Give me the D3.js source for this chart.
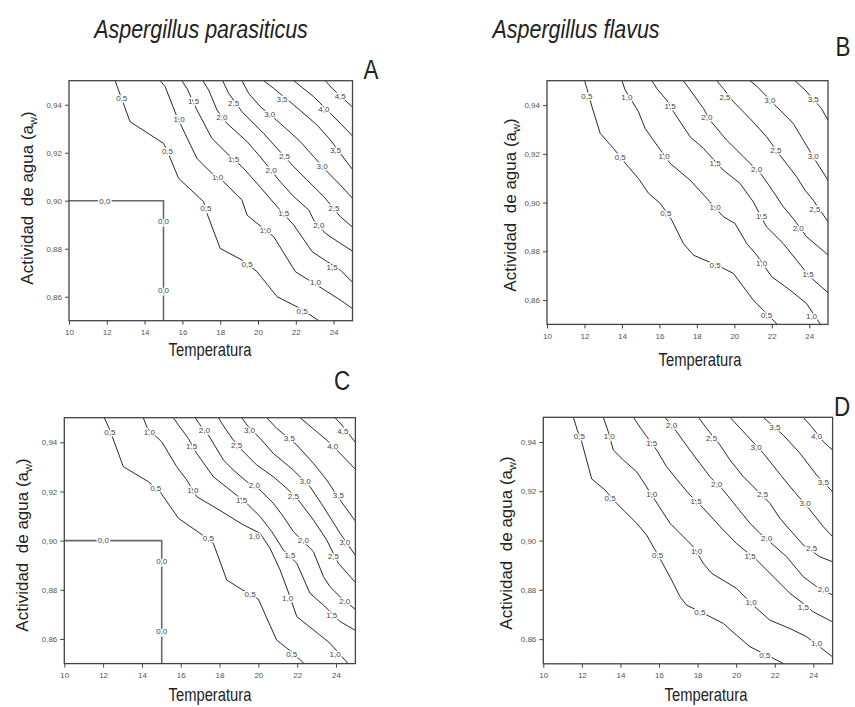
<!DOCTYPE html>
<html><head><meta charset="utf-8">
<script src="https://cdn.jsdelivr.net/npm/d3@7"></script>
<style>body{margin:0;background:#fff}svg{display:block}text{font-family:"Liberation Sans",Arial,sans-serif}</style>
</head><body>
<script>
// ---- data ----
const xDomain = [10, 25];
const yDomain = [0.85, 0.95];
const xTicks = [10, 12, 14, 16, 18, 20, 22, 24];
const yTicks = [0.86, 0.88, 0.90, 0.92, 0.94];
const yTickLabels = ["0,86", "0,88", "0,90", "0,92", "0,94"];
const speciesTitles = ["Aspergillus parasiticus", "Aspergillus flavus"];
const panelLetters = ["A", "B", "C", "D"];
const xTitle = "Temperatura";

// contour lines: [level, [[temperature, aw], ...]]
const contoursA = [
  [0.0, [[10,0.90],[15,0.90],[15,0.85]]],
  [0.5, [[12.44,0.95],[13.23,0.9329],[15.0,0.9239],[15.18,0.9211],[15.80,0.9093],[17.12,0.8996],[17.30,0.8947],[18.00,0.8801],[19.15,0.8753],[19.95,0.8704],[21.01,0.86],[22.24,0.8551],[23.22,0.85]]],
  [1.0, [[14.82,0.95],[15.09,0.9475],[15.71,0.935],[16.77,0.9176],[17.56,0.9114],[18.18,0.9079],[19.15,0.9003],[19.42,0.894],[19.95,0.8906],[20.83,0.885],[21.98,0.8704],[22.95,0.8656],[24.36,0.8586],[25,0.855]]],
  [1.5, [[15.97,0.95],[16.24,0.9468],[16.77,0.9378],[17.56,0.926],[18.36,0.9197],[19.15,0.9142],[19.95,0.9072],[21.01,0.8975],[21.89,0.8899],[22.86,0.8788],[23.66,0.8746],[24.36,0.8711],[25,0.866]]],
  [2.0, [[17.08,0.95],[17.39,0.9461],[17.83,0.9378],[18.36,0.9322],[19.42,0.9246],[20.12,0.9183],[21.10,0.9086],[21.89,0.9017],[22.69,0.8961],[22.95,0.8919],[23.57,0.8864],[24.36,0.8822],[25,0.879]]],
  [2.5, [[18.13,0.95],[18.45,0.9447],[19.15,0.9371],[20.30,0.928],[21.01,0.9218],[21.89,0.9142],[22.60,0.9086],[23.48,0.9017],[24.36,0.8933],[25,0.889]]],
  [3.0, [[19.15,0.95],[19.51,0.9447],[20.12,0.9392],[21.18,0.9322],[22.24,0.9246],[22.95,0.9183],[23.66,0.9121],[24.36,0.9065],[25,0.901]]],
  [3.5, [[20.30,0.95],[20.83,0.9468],[21.89,0.9399],[23.13,0.9315],[23.83,0.9253],[24.36,0.9197],[25,0.913]]],
  [4.0, [[21.89,0.95],[22.95,0.9433],[23.83,0.9364],[24.36,0.9322],[25,0.927]]],
  [4.5, [[23.57,0.95],[23.92,0.9468],[25,0.939]]]
];
const labelsA = [
  [0.0,11.9,0.90],[0.0,15,0.8913],[0.0,15,0.8628],
  [0.5,12.79,0.9426],[0.5,15.21,0.9208],[0.5,17.24,0.897],[0.5,19.42,0.8735],[0.5,22.33,0.8538],
  [1.0,15.83,0.9339],[1.0,17.86,0.9096],[1.0,20.39,0.8878],[1.0,23.04,0.866],
  [1.5,16.59,0.9413],[1.5,18.71,0.9172],[1.5,21.36,0.8947],[1.5,23.92,0.8725],
  [2.0,18.09,0.9346],[2.0,20.69,0.9128],[2.0,23.22,0.8896],
  [2.5,18.71,0.9406],[2.5,21.40,0.9186],[2.5,24.01,0.8968],
  [3.0,20.62,0.936],[3.0,23.39,0.9142],
  [3.5,21.27,0.9424],[3.5,24.10,0.9211],
  [4.0,23.48,0.9382],
  [4.5,24.35,0.9435]
];
const contoursB = [
  [0.5, [[12.01,0.95],[12.13,0.9468],[12.40,0.9393],[12.84,0.9284],[13.55,0.9222],[14.26,0.9154],[14.88,0.9099],[15.42,0.9038],[16.04,0.8997],[16.66,0.8928],[17.28,0.8832],[17.82,0.8784],[19.24,0.8737],[19.95,0.8709],[21.01,0.86],[22.29,0.85]]],
  [1.0, [[14.0,0.95],[14.17,0.9462],[14.88,0.9373],[15.24,0.9304],[15.68,0.9256],[16.57,0.9161],[17.64,0.9092],[18.70,0.9003],[19.41,0.8942],[20.04,0.8914],[20.66,0.8832],[21.19,0.8785],[21.99,0.8696],[22.97,0.8641],[23.85,0.8586],[24.60,0.85]]],
  [1.5, [[15.60,0.95],[15.86,0.9468],[16.39,0.942],[16.75,0.9373],[17.64,0.927],[18.35,0.9222],[19.41,0.9133],[20.30,0.9079],[21.01,0.9003],[21.72,0.89],[22.61,0.8832],[23.32,0.8764],[24.03,0.8696],[25,0.863]]],
  [2.0, [[17.28,0.95],[17.64,0.9462],[18.35,0.9386],[18.70,0.9338],[19.59,0.9256],[20.48,0.9188],[21.46,0.9113],[21.90,0.9065],[22.61,0.8983],[23.14,0.8935],[23.85,0.886],[25,0.8785]]],
  [2.5, [[19.06,0.95],[19.41,0.9468],[19.95,0.9414],[20.83,0.9345],[21.72,0.927],[22.43,0.9195],[23.32,0.9106],[23.77,0.9051],[24.21,0.901],[25,0.8921]]],
  [3.0, [[20.83,0.95],[21.19,0.9478],[22.26,0.9393],[23.14,0.9325],[23.68,0.9256],[24.48,0.9154],[25,0.9092]]],
  [3.5, [[23.23,0.95],[23.77,0.9462],[24.65,0.9386],[25,0.9338]]]
];
const labelsB = [
  [0.5,12.13,0.9437],[0.5,13.91,0.9185],[0.5,16.34,0.8958],[0.5,18.97,0.8744],[0.5,21.72,0.8538],
  [1.0,14.26,0.9434],[1.0,16.25,0.9191],[1.0,18.97,0.898],[1.0,21.46,0.8753],[1.0,24.12,0.8534],
  [1.5,16.57,0.9396],[1.5,18.97,0.9163],[1.5,21.46,0.8942],[1.5,23.94,0.8707],
  [2.0,18.53,0.9352],[2.0,21.19,0.9136],[2.0,23.41,0.8894],
  [2.5,19.50,0.9434],[2.5,22.22,0.9215],[2.5,24.30,0.8972],
  [3.0,21.90,0.9418],[3.0,24.21,0.9191],
  [3.5,24.21,0.9423]
];
const contoursC = [
  [0.0, [[10,0.90],[15.02,0.90],[15.02,0.85]]],
  [0.5, [[12.06,0.95],[12.35,0.945],[13.04,0.9301],[14.33,0.924],[14.93,0.9199],[15.88,0.9091],[16.99,0.903],[17.68,0.8989],[18.37,0.884],[19.05,0.8806],[20.0,0.8762],[20.94,0.8596],[21.80,0.8542],[22.36,0.85]]],
  [1.0, [[14.07,0.95],[14.28,0.9457],[15.02,0.9402],[15.79,0.9301],[16.31,0.9247],[16.82,0.9179],[17.85,0.9131],[19.23,0.9064],[20.09,0.903],[20.60,0.8969],[21.12,0.8881],[21.63,0.8772],[21.98,0.8691],[22.84,0.8637],[23.69,0.8583],[24.62,0.85]]],
  [1.5, [[15.62,0.95],[15.88,0.947],[16.39,0.9416],[16.82,0.9355],[17.68,0.926],[18.54,0.9206],[19.40,0.9152],[20.09,0.9098],[20.69,0.9037],[21.29,0.8962],[21.98,0.8908],[22.66,0.8786],[23.35,0.8738],[24.21,0.8671],[25,0.8635]]],
  [2.0, [[16.74,0.95],[17.0,0.947],[17.42,0.943],[18.20,0.9328],[18.71,0.9287],[19.40,0.924],[20.09,0.9206],[20.77,0.9152],[21.29,0.9098],[21.80,0.9037],[22.84,0.8955],[23.35,0.8854],[23.69,0.8813],[24.21,0.8772],[25,0.872]]],
  [2.5, [[17.94,0.95],[18.28,0.9457],[18.71,0.9409],[19.14,0.9369],[19.91,0.9308],[20.77,0.926],[21.46,0.9213],[22.06,0.9165],[22.84,0.9084],[23.52,0.9003],[24.12,0.8908],[25,0.883]]],
  [3.0, [[19.14,0.95],[19.48,0.9463],[20.09,0.9416],[20.77,0.9355],[21.80,0.9287],[22.66,0.922],[23.35,0.9138],[24.21,0.903],[25,0.894]]],
  [3.5, [[20.43,0.95],[20.94,0.9457],[21.98,0.9389],[22.84,0.9314],[23.52,0.9247],[24.21,0.9165],[25,0.908]]],
  [4.0, [[22.15,0.95],[23.01,0.9443],[23.52,0.9409],[24.21,0.9355],[25,0.929]]],
  [4.5, [[23.95,0.95],[24.30,0.947],[25,0.94]]]
];
const labelsC = [
  [0.0,12.01,0.90],[0.0,15.02,0.8915],[0.0,15.02,0.8633],
  [0.5,12.35,0.9439],[0.5,14.71,0.9215],[0.5,17.42,0.901],[0.5,19.57,0.8783],[0.5,21.72,0.8539],
  [1.0,14.38,0.9439],[1.0,16.62,0.9206],[1.0,19.79,0.902],[1.0,21.51,0.8766],[1.0,23.95,0.8539],
  [1.5,16.56,0.9385],[1.5,19.14,0.9165],[1.5,21.63,0.8939],[1.5,23.78,0.8698],
  [2.0,17.22,0.945],[2.0,19.79,0.9226],[2.0,22.32,0.9003],[2.0,24.45,0.8755],
  [2.5,18.88,0.9389],[2.5,21.80,0.9179],[2.5,23.87,0.8935],
  [3.0,19.54,0.945],[3.0,22.41,0.924],[3.0,24.45,0.8995],
  [3.5,21.60,0.9416],[3.5,24.12,0.9186],
  [4.0,23.83,0.9385],
  [4.5,24.35,0.9445]
];
const contoursD = [
  [0.5, [[11.56,0.95],[11.76,0.9449],[11.99,0.9401],[12.51,0.925],[13.20,0.9205],[13.80,0.9151],[14.84,0.907],[15.36,0.9022],[15.70,0.8975],[16.14,0.8914],[16.65,0.884],[17.09,0.8772],[17.43,0.8738],[18.47,0.8698],[19.33,0.8664],[20.02,0.8616],[20.72,0.8569],[21.92,0.8522],[22.48,0.85]]],
  [1.0, [[13.11,0.95],[13.37,0.9442],[13.63,0.9367],[14.15,0.9327],[14.84,0.9279],[15.18,0.9239],[15.79,0.9164],[16.57,0.907],[17.43,0.9002],[17.78,0.8975],[18.30,0.8907],[18.73,0.8867],[20.02,0.8806],[20.54,0.8765],[21.06,0.8725],[21.75,0.8677],[22.79,0.8643],[23.65,0.861],[25,0.8528]]],
  [1.5, [[14.67,0.95],[14.93,0.9469],[15.36,0.9422],[15.88,0.9367],[16.39,0.93],[17.09,0.9232],[17.60,0.9185],[18.30,0.9131],[19.33,0.9043],[20.02,0.8988],[21.06,0.8921],[21.93,0.8853],[22.79,0.8786],[23.48,0.8745],[23.99,0.8711],[25,0.867]]],
  [2.0, [[16.31,0.95],[16.91,0.9442],[17.60,0.9367],[18.12,0.9313],[18.64,0.9259],[19.33,0.9205],[20.02,0.9137],[20.72,0.907],[21.23,0.9029],[21.93,0.8982],[22.62,0.8934],[23.48,0.8853],[24.17,0.8813],[25,0.8779]]],
  [2.5, [[18.04,0.95],[18.47,0.9455],[19.16,0.9388],[19.68,0.9327],[20.37,0.9259],[21.06,0.9205],[21.75,0.9151],[22.27,0.909],[22.79,0.9043],[23.48,0.8982],[24.34,0.8934],[25,0.8914]]],
  [3.0, [[19.68,0.95],[20.37,0.9442],[21.41,0.9354],[22.10,0.9286],[22.79,0.9219],[23.83,0.9124],[24.52,0.9056],[25,0.9016]]],
  [3.5, [[21.41,0.95],[21.84,0.9469],[22.44,0.9428],[23.31,0.9354],[24.17,0.9266],[25,0.9198]]],
  [4.0, [[23.48,0.95],[23.91,0.9462],[24.52,0.9401],[25,0.9367]]]
];
const labelsD = [
  [0.5,11.87,0.9422],[0.5,13.46,0.9171],[0.5,15.93,0.8941],[0.5,18.12,0.8708],[0.5,21.49,0.8535],
  [1.0,13.42,0.9424],[1.0,15.62,0.9187],[1.0,17.95,0.8955],[1.0,20.77,0.8749],[1.0,24.17,0.8583],
  [1.5,15.62,0.9394],[1.5,17.92,0.9158],[1.5,20.72,0.8938],[1.5,23.48,0.8731],
  [2.0,16.65,0.9469],[2.0,18.99,0.9229],[2.0,21.58,0.9009],[2.0,24.52,0.8802],
  [2.5,18.73,0.9415],[2.5,21.37,0.9189],[2.5,23.91,0.8968],
  [3.0,21.03,0.9377],[3.0,23.57,0.9151],
  [3.5,22.01,0.9459],[3.5,24.52,0.9236],
  [4.0,24.17,0.9424]
];

// ---- layout ----
const W = 855, H = 707;
const panels = [
  {contours: contoursA, labels: labelsA, x0: 69, x1: 352.5, y0: 80.7, y1: 320.7, letter: [371, 79], xt: [210, 356], yt: [33, 198]},
  {contours: contoursB, labels: labelsB, x0: 547, x1: 828, y0: 80.7, y1: 324.4, letter: [843, 56], xt: [700, 366], yt: [516, 205]},
  {contours: contoursC, labels: labelsC, x0: 64.3, x1: 355.4, y0: 417.7, y1: 663.6, letter: [342, 390], xt: [210, 701], yt: [28, 545]},
  {contours: contoursD, labels: labelsD, x0: 543.3, x1: 832.6, y0: 417.3, y1: 663.8, letter: [842, 416], xt: [706, 701], yt: [512, 543]}
];
const fmt = v => v.toFixed(1).replace(".", ",");

const svg = d3.select("body").append("svg").attr("width", W).attr("height", H);

// species titles
[[speciesTitles[0], 201], [speciesTitles[1], 576]].forEach(([t, cx]) => {
  svg.append("g").attr("transform", `translate(${cx},38) scale(0.86,1)`)
    .append("text").attr("text-anchor", "middle").attr("font-size", 25)
    .attr("font-style", "italic").attr("fill", "#222").text(t);
});

panels.forEach((p, i) => {
  const x = d3.scaleLinear().domain(xDomain).range([p.x0, p.x1]);
  const y = d3.scaleLinear().domain(yDomain).range([p.y1, p.y0]);
  const g = svg.append("g");
  const clipId = "clip" + i;
  g.append("clipPath").attr("id", clipId).append("rect")
    .attr("x", p.x0).attr("y", p.y0).attr("width", p.x1 - p.x0).attr("height", p.y1 - p.y0);

  const line = d3.line().x(d => x(d[0])).y(d => y(d[1]));
  const cg = g.append("g").attr("clip-path", `url(#${clipId})`);
  cg.selectAll("path.c").data(p.contours).join("path")
    .attr("d", d => line(d[1]))
    .attr("fill", "none")
    .attr("stroke", d => d[0] === 0 ? "#6a6a6a" : "#111")
    .attr("stroke-width", d => d[0] === 0 ? 1.6 : 0.9);

  cg.selectAll("text.l").data(p.labels).join("text")
    .attr("x", d => x(d[1])).attr("y", d => y(d[2]))
    .attr("text-anchor", "middle").attr("dy", "0.35em")
    .attr("font-size", 8).attr("fill", "#444")
    .attr("stroke", "#fff").attr("stroke-width", 3).attr("paint-order", "stroke")
    .text(d => fmt(d[0]));

  // frame
  g.append("rect").attr("x", p.x0).attr("y", p.y0)
    .attr("width", p.x1 - p.x0).attr("height", p.y1 - p.y0)
    .attr("fill", "none").attr("stroke", "#444").attr("stroke-width", 1.3);

  // axes
  const xAxis = d3.axisBottom(x).tickValues(xTicks).tickSize(4).tickSizeOuter(0).tickFormat(d3.format("d"));
  const gx = g.append("g").attr("transform", `translate(0,${p.y1})`).call(xAxis);
  gx.select(".domain").remove();
  gx.selectAll("line").attr("stroke", "#444");
  gx.selectAll("text").attr("font-size", 8).attr("fill", "#555").attr("dy", "0.9em")
    .style("font-family", "'Liberation Sans',Arial,sans-serif");

  const yAxis = d3.axisLeft(y).tickValues(yTicks).tickSize(4).tickSizeOuter(0)
    .tickFormat((d, k) => yTickLabels[k]);
  const gy = g.append("g").attr("transform", `translate(${p.x0},0)`).call(yAxis);
  gy.select(".domain").remove();
  gy.selectAll("line").attr("stroke", "#444");
  gy.selectAll("text").attr("font-size", 8).attr("fill", "#555")
    .style("font-family", "'Liberation Sans',Arial,sans-serif");

  // axis titles
  svg.append("g").attr("transform", `translate(${p.xt[0]},${p.xt[1]}) scale(0.82,1)`)
    .append("text").attr("text-anchor", "middle").attr("font-size", 18).attr("fill", "#222").text(xTitle);

  const yt = svg.append("text").attr("transform", `translate(${p.yt[0]},${p.yt[1]}) rotate(-90)`)
    .attr("text-anchor", "middle").attr("font-size", 17).attr("fill", "#222")
    .style("white-space", "pre");
  yt.append("tspan").text("Actividad  de agua (a");
  yt.append("tspan").attr("font-size", 11).attr("dy", 4).text("w");
  yt.append("tspan").attr("dy", -4).text(")");

  // panel letter
  svg.append("g").attr("transform", `translate(${p.letter[0]},${p.letter[1]}) scale(0.8,1)`)
    .append("text").attr("text-anchor", "middle").attr("font-size", 28).attr("fill", "#222").text(panelLetters[i]);
});
</script>
</body></html>
